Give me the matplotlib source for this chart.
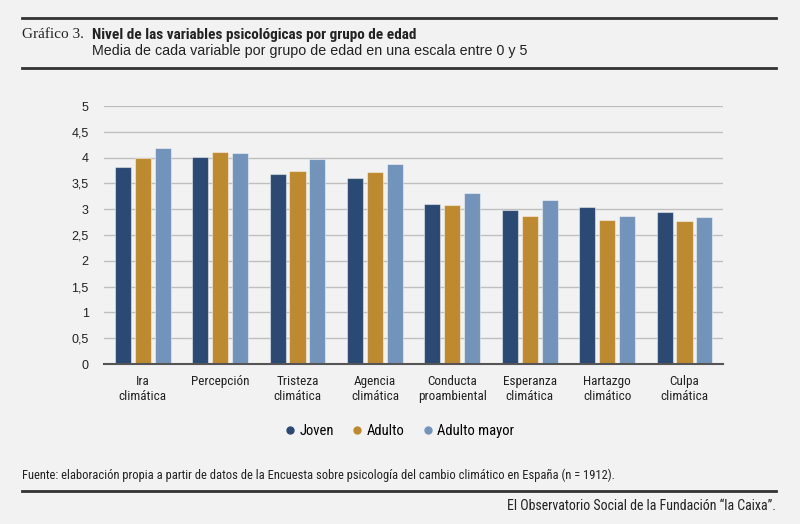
import numpy as np
import matplotlib
matplotlib.use("Agg")
import matplotlib.pyplot as plt
from matplotlib import font_manager
from matplotlib.lines import Line2D

# Data
categories = ["Ira\nclimática", "Percepción", "Tristeza\nclimática", "Agencia\nclimática",
              "Conducta\nproambiental", "Esperanza\nclimática", "Hartazgo\nclimático", "Culpa\nclimática"]
joven = [3.81, 4.01, 3.69, 3.60, 3.11, 2.98, 3.05, 2.95]
adulto = [3.99, 4.10, 3.75, 3.72, 3.09, 2.87, 2.79, 2.77]
adulto_mayor = [4.19, 4.09, 3.97, 3.88, 3.31, 3.17, 2.87, 2.85]
series_names = ["Joven", "Adulto", "Adulto mayor"]
yticks = [0, 0.5, 1, 1.5, 2, 2.5, 3, 3.5, 4, 4.5, 5]

colors = ["#2a4a73", "#be8a30", "#7294bb"]
bg = "#f2f2f2"


def pick(*names):
    avail = {f.name for f in font_manager.fontManager.ttflist}
    for n in names:
        if n in avail:
            return n
    return "DejaVu Sans"


sans = pick("Liberation Sans", "Arial", "DejaVu Sans")
narrow = pick("Liberation Sans Narrow", "Roboto Condensed", "Liberation Sans")
serif = pick("Liberation Serif", "DejaVu Serif")

fig = plt.figure(figsize=(8, 5.24), dpi=100, facecolor=bg)
ax = fig.add_axes([0.13, 0.3053, 0.774, 0.4924], facecolor=bg)

x = np.arange(len(categories))
w = 0.207
step = 0.258
for i, vals in enumerate([joven, adulto, adulto_mayor]):
    ax.bar(x + (i - 1) * step, vals, width=w, color=colors[i],
           edgecolor=(1, 1, 1, 0.45), linewidth=0.8, zorder=3)

ax.set_xlim(-0.5, len(categories) - 0.5)
ax.set_ylim(0, 5)
ax.set_yticks(yticks)
ax.set_yticklabels([f"{t:g}".replace(".", ",") for t in yticks],
                   fontfamily=sans, fontsize=9, color="#222222")
ax.set_xticks(x)
ax.set_xticklabels(categories, fontfamily=narrow, fontsize=9.5, color="#222222",
                   linespacing=1.15)
ax.tick_params(axis="both", length=0)
ax.tick_params(axis="y", pad=11)
ax.tick_params(axis="x", pad=8)
ax.grid(axis="y", color="#bfbfbf", linewidth=1, zorder=0)
for s in ["top", "right", "left"]:
    ax.spines[s].set_visible(False)
ax.spines["bottom"].set_color("#555555")
ax.spines["bottom"].set_linewidth(1.5)
ax.spines["bottom"].set_zorder(4)

# Legend
handles = [Line2D([], [], marker="o", linestyle="", markersize=5,
                  markerfacecolor=c, markeredgecolor=c) for c in colors]
fig.legend(handles, series_names, loc="center", bbox_to_anchor=(0.5, 1 - 431 / 524),
           ncol=3, frameon=False, handlelength=0.6, handletextpad=0.35, columnspacing=1.3,
           prop={"family": narrow, "size": 10.5})

# Header and footer rules
for yp in [18, 68, 491]:
    fig.add_artist(Line2D([22 / 800, 776 / 800], [1 - yp / 524] * 2,
                          color="#333333", linewidth=2))

fig.text(22 / 800, 1 - 35 / 524, "Gráfico 3.", fontfamily=serif, fontsize=11,
         color="#222222", va="center")
fig.text(92 / 800, 1 - 35 / 524, "Nivel de las variables psicológicas por grupo de edad",
         fontfamily=narrow, fontweight="bold", fontsize=11, color="#222222", va="center")
fig.text(92 / 800, 1 - 51 / 524, "Media de cada variable por grupo de edad en una escala entre 0 y 5",
         fontfamily=sans, fontsize=10.3, color="#222222", va="center")
fig.text(22 / 800, 1 - 475 / 524,
         "Fuente: elaboración propia a partir de datos de la Encuesta sobre psicología del cambio climático en España (n = 1912).",
         fontfamily=narrow, fontsize=9, color="#222222", va="center")
fig.text(776 / 800, 1 - 506 / 524, "El Observatorio Social de la Fundación “la Caixa”.",
         fontfamily=narrow, fontsize=10, color="#222222", va="center", ha="right")

fig.savefig("out.png", dpi=100, facecolor=bg)
